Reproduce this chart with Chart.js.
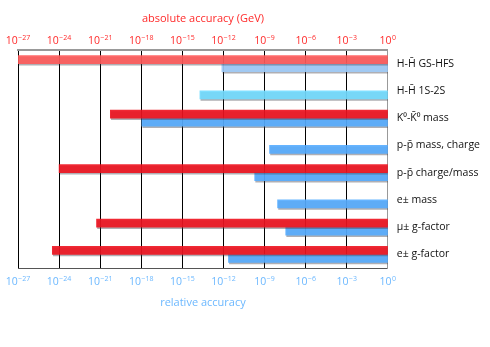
<!DOCTYPE html>
<html>
<head>
<meta charset="utf-8">
<script src="https://cdn.jsdelivr.net/npm/chart.js@4"></script>
<style>
  html, body { margin: 0; padding: 0; background: #fff; }
  #wrap { width: 490px; height: 347px; }
</style>
</head>
<body>
<div id="wrap"><canvas id="accChart"></canvas></div>
<script>
const measurements = ['H-H\u0304 GS-HFS', 'H-H\u0304 1S-2S', 'K\u2070-K\u0304\u2070 mass', 'p-p\u0304 mass, charge',
  'p-p\u0304 charge/mass', 'e\u00b1 mass', '\u03bc\u00b1 g-factor', 'e\u00b1 g-factor'];
// left end of each bar, all bars run up to 1
const absoluteAcc = [1e-27, null, 5.5e-21, null, 1e-24, null, 5.4e-22, 3.2e-25];
const relativeAcc = [7.6e-13, 1.9e-14, 1.1e-18, 2.3e-9, 1.9e-10, 8.9e-9, 3.5e-8, 2.3e-12];
const tickValues = [1e-27, 1e-24, 1e-21, 1e-18, 1e-15, 1e-12, 1e-9, 1e-6, 1e-3, 1];

const redCols = ['rgba(255,90,90,0.9)', null, 'rgba(238,18,30,0.9)', null, 'rgba(238,18,30,0.9)', null, 'rgba(238,18,30,0.9)', 'rgba(238,18,30,0.9)'];
const blueCols = ['rgba(160,204,250,0.9)', 'rgba(113,219,255,0.9)', 'rgba(85,172,255,0.9)', 'rgba(85,172,255,0.9)',
  'rgba(85,172,255,0.9)', 'rgba(85,172,255,0.9)', 'rgba(85,172,255,0.9)', 'rgba(85,172,255,0.9)'];

const font = 'Open Sans';
const redText = '#ff2a2a';
const blueText = '#6cb8ff';

function fixTicks(scale) {
  scale.ticks = tickValues.map(v => ({ value: v, major: true }));
}

// bars get a thin grey drop shadow
const shadow = {
  id: 'shadow',
  beforeDatasetsDraw(chart) {
    const c = chart.ctx;
    c.save();
    c.shadowColor = 'rgba(60,60,70,0.45)';
    c.shadowOffsetX = 1;
    c.shadowOffsetY = 1.5;
    c.shadowBlur = 0;
  },
  afterDatasetsDraw(chart) {
    chart.ctx.restore();
  }
};

// powers of ten written as 10 with a raised exponent
const powerLabels = {
  id: 'powerLabels',
  afterDraw(chart) {
    const c = chart.ctx;
    c.save();
    c.textBaseline = 'alphabetic';
    [['x', blueText, 1], ['x2', redText, -1]].forEach(([id, color, dir]) => {
      const s = chart.scales[id];
      const base = dir > 0 ? s.top + 17 : s.bottom - 6;
      s.ticks.forEach(t => {
        const px = s.getPixelForValue(t.value);
        const e = Math.round(Math.log10(t.value));
        const exp = e === 0 ? '0' : '\u2212' + Math.abs(e);
        c.font = '10.5px "' + font + '"';
        const w1 = c.measureText('10').width;
        c.font = '7px "' + font + '"';
        const w2 = c.measureText(exp).width;
        const x0 = px - (w1 + w2 + 0.5) / 2;
        c.fillStyle = color;
        c.font = '10.5px "' + font + '"';
        c.textAlign = 'left';
        c.fillText('10', x0, base);
        c.font = '7px "' + font + '"';
        c.fillText(exp, x0 + w1 + 0.5, base - 4);
      });
    });
    c.restore();
  }
};

new Chart(document.getElementById('accChart'), {
  type: 'bar',
  data: {
    labels: measurements,
    datasets: [
      {
        label: 'absolute',
        data: absoluteAcc.map(v => v === null ? null : [v, 1]),
        backgroundColor: redCols,
        xAxisID: 'x'
      },
      {
        label: 'relative',
        data: relativeAcc.map(v => [v, 1]),
        backgroundColor: blueCols,
        xAxisID: 'x'
      }
    ]
  },
  options: {
    indexAxis: 'y',
    responsive: true,
    maintainAspectRatio: false,
    animation: false,
    barThickness: 8,
    borderSkipped: false,
    layout: { padding: { left: 18, right: 1, top: 0, bottom: 0 } },
    plugins: { legend: { display: false }, tooltip: { enabled: false } },
    scales: {
      x: {
        type: 'logarithmic',
        position: 'bottom',
        min: 1e-27,
        max: 1,
        afterBuildTicks: fixTicks,
        afterFit: s => { s.height = 79; },
        grid: { color: '#000', lineWidth: 1, drawTicks: false },
        border: { color: '#555', width: 1 },
        ticks: {
          padding: 6,
          maxRotation: 0,
          autoSkip: false,
          font: { family: font, size: 9.5 },
          callback: () => ' '
        },
        title: {
          display: true,
          text: 'relative accuracy',
          color: blueText,
          padding: { top: 0, bottom: 38 },
          font: { family: font, size: 11 }
        }
      },
      x2: {
        type: 'logarithmic',
        position: 'top',
        min: 1e-27,
        max: 1,
        afterBuildTicks: fixTicks,
        afterFit: s => { s.height = 50; },
        grid: { display: false, drawTicks: false },
        border: { color: '#999', width: 2 },
        ticks: {
          padding: 8,
          maxRotation: 0,
          autoSkip: false,
          font: { family: font, size: 9.5 },
          callback: () => ' '
        },
        title: {
          display: true,
          text: 'absolute accuracy (GeV)',
          color: redText,
          padding: { top: 12, bottom: 0 },
          font: { family: font, size: 11 }
        }
      },
      y: {
        position: 'right',
        grid: { display: false, drawTicks: false },
        border: { color: '#999', width: 1 },
        ticks: {
          color: '#111',
          padding: 9,
          font: { family: font, size: 10.5 }
        }
      }
    }
  },
  plugins: [shadow, powerLabels]
});
</script>
</body>
</html>
